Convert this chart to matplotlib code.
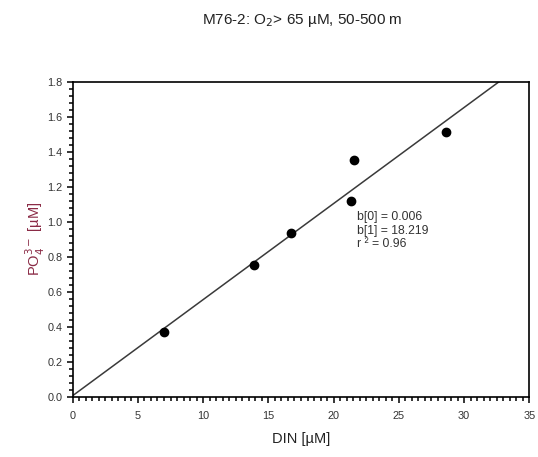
import matplotlib
matplotlib.use("Agg")
import matplotlib.pyplot as plt
import numpy as np
from matplotlib.ticker import MultipleLocator, FormatStrFormatter

plt.rcParams['font.family'] = ['Liberation Sans', 'DejaVu Sans']

din = [6.98, 13.88, 16.72, 21.37, 21.55, 28.6]
po4 = [0.369, 0.753, 0.936, 1.119, 1.353, 1.511]
b0 = 0.006
b1 = 18.219
r2 = 0.96

fig = plt.figure(figsize=(5.38, 4.57), dpi=100)
L, R, B, T = 72.7 / 538, 529.3 / 538, 1 - 396.7 / 457, 1 - 81.7 / 457
ax = fig.add_axes([L, B, R - L, T - B])

# regression line: PO4 = b0 + DIN / b1
xl = np.array([0.0, 35.0])
yl = b0 + xl / b1
ax.plot(xl, yl, color='#3a3a3a', lw=1.1, zorder=2)
ax.plot(din, po4, 'o', color='black', ms=6, zorder=3)

ax.set_xlim(0, 35)
ax.set_ylim(0, 1.8)
ax.xaxis.set_major_locator(MultipleLocator(5))
ax.xaxis.set_minor_locator(MultipleLocator(0.5))
ax.yaxis.set_major_locator(MultipleLocator(0.2))
ax.yaxis.set_minor_locator(MultipleLocator(0.04))
ax.yaxis.set_major_formatter(FormatStrFormatter('%.1f'))
ax.tick_params(which='major', direction='out', length=4.5, width=1.1,
               labelsize=7.8, colors='black', labelcolor='#333333')
ax.tick_params(axis='y', which='major', pad=3)
ax.tick_params(axis='x', which='major', pad=6)
ax.tick_params(which='minor', direction='out', length=3, width=1.1)
for s in ax.spines.values():
    s.set_linewidth(1.2)

ax.set_xlabel('DIN [µM]', fontsize=10.5, color='#222222', labelpad=8)
ax.set_ylabel('PO$_4^{3-}$ [µM]', fontsize=10.5, color='#8a2a45', labelpad=0)
fig.text(0.562, 0.955, 'M76-2: O$_2$> 65 µM, 50-500 m', fontsize=11,
         ha='center', va='center', color='#222222')

ax.text(21.8, 1.06, f'b[0] = {b0:.3f}\nb[1] = {b1:.3f}\nr ² = {r2:.2f}',
        fontsize=8.8, color='#333333', va='top', ha='left', linespacing=1.15)

fig.savefig('out.png', dpi=100)
